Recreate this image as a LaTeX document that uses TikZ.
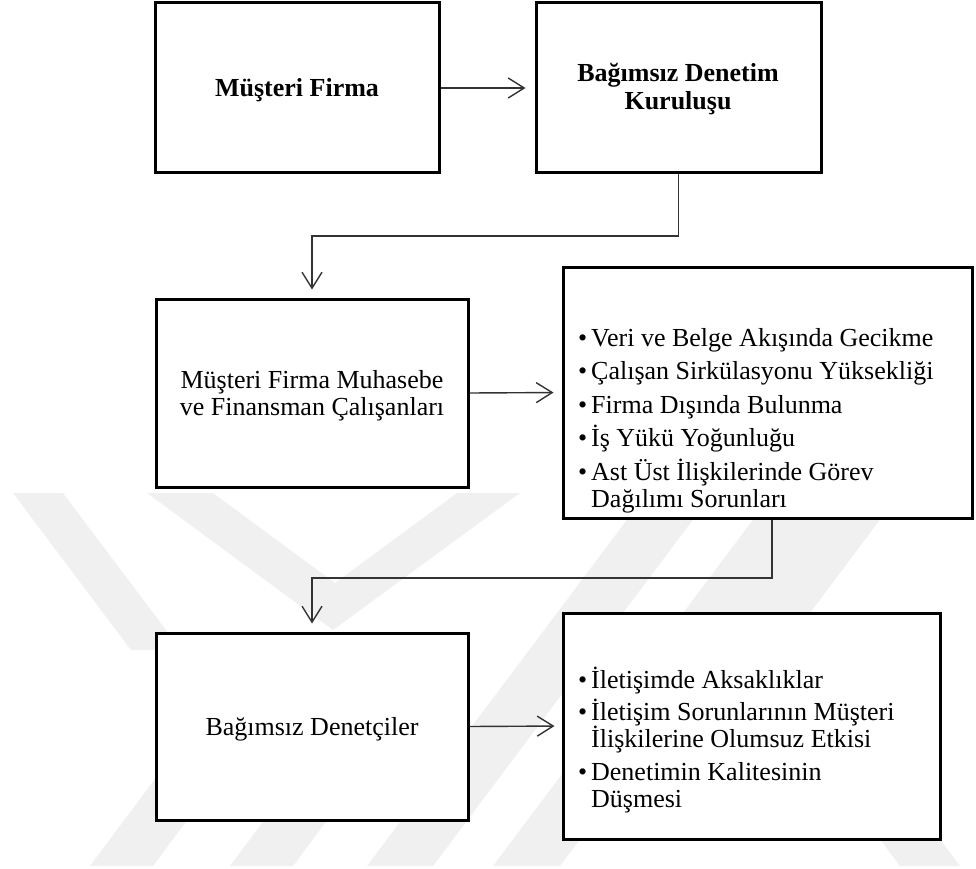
\documentclass[tikz,border=0pt]{standalone}
\usepackage{fontspec}
\setmainfont{Liberation Serif}
\usetikzlibrary{arrows.meta}
\newcommand\myblt{\makebox[13pt][l]{\textbullet}}
\newcommand\myind{\hspace*{13pt}}
\begin{document}
\begin{tikzpicture}[x=1pt,y=-1pt,
  box/.style={draw=black, line width=3pt, fill=white, inner sep=0pt, rectangle},
  conn/.style={draw=black!80, line width=1.4pt, -{Straight Barb[length=16pt,width=20pt]}},
  txt/.style={inner sep=0pt, font=\fontsize{26}{28}\selectfont},
  wm/.style={fill=black!6, draw=none}]
\useasboundingbox (0,0) rectangle (976,869);
% watermark
\begin{scope}
\clip (0,493) rectangle (976,869);
\fill[wm] (13,493) -- (63,493) -- (181,650) -- (131,650) -- cycle;
\fill[wm] (147,493) -- (213,493) -- (335,583) -- (457,493) -- (520,493) -- (333,630) -- cycle;
\fill[wm] (90,866) -- (153,866) -- (235,756) -- (172,756) -- cycle;
\fill[wm] (230,866) -- (293,866) -- (375,756) -- (312,756) -- cycle;
\fill[wm] (367,866) -- (433,866) -- (713,493) -- (647,493) -- cycle;
\fill[wm] (493,866) -- (560,866) -- (840,493) -- (773,493) -- cycle;
\fill[wm] (833,493) -- (900,493) -- (810,613) -- (743,613) -- cycle;
\fill[wm] (900,866) -- (960,866) -- (835,700) -- (775,700) -- cycle;
\end{scope}
% boxes
\node[box, minimum width=284pt, minimum height=170pt] (b1) at (297.5,88) {};
\node[box, minimum width=285pt, minimum height=170pt] (b2) at (678.5,88) {};
\node[box, minimum width=312pt, minimum height=188pt] (b3) at (312,393) {};
\node[box, minimum width=409pt, minimum height=251pt] (b4) at (767.5,392.5) {};
\node[box, minimum width=312pt, minimum height=187pt] (b5) at (312,726.5) {};
\node[box, minimum width=377pt, minimum height=226pt] (b6) at (751.5,726) {};
% texts
\node[txt, anchor=base] (t1) at (297,97) {\bfseries Müşteri Firma};
\node[txt, anchor=base] (t2a) at (678,82) {\bfseries Bağımsız Denetim};
\node[txt, anchor=base] (t2b) at (678,110) {\bfseries Kuruluşu};
\node[txt, anchor=base] (t3a) at (312,388) {Müşteri Firma Muhasebe};
\node[txt, anchor=base] (t3b) at (312,415) {ve Finansman Çalışanları};
\node[txt, anchor=base] (t5) at (312,735) {Bağımsız Denetçiler};
\node[txt, anchor=base west] (l41) at (578,346) {\myblt Veri ve Belge Akışında Gecikme};
\node[txt, anchor=base west] (l42) at (578,379.5) {\myblt Çalışan Sirkülasyonu Yüksekliği};
\node[txt, anchor=base west] (l43) at (578,413) {\myblt Firma Dışında Bulunma};
\node[txt, anchor=base west] (l44) at (578,446.5) {\myblt İş Yükü Yoğunluğu};
\node[txt, anchor=base west] (l45) at (578,480) {\myblt Ast Üst İlişkilerinde Görev};
\node[txt, anchor=base west] (l46) at (578,507) {\myind Dağılımı Sorunları};
\node[txt, anchor=base west] (l61) at (578,688) {\myblt İletişimde Aksaklıklar};
\node[txt, anchor=base west] (l62) at (578,720) {\myblt İletişim Sorunlarının Müşteri};
\node[txt, anchor=base west] (l63) at (578,747) {\myind İlişkilerine Olumsuz Etkisi};
\node[txt, anchor=base west] (l64) at (578,780) {\myblt Denetimin Kalitesinin};
\node[txt, anchor=base west] (l65) at (578,807) {\myind Düşmesi};
% connectors
\coordinate (k2) at (312,236);
\coordinate (k3) at (772,578);
\coordinate (k4) at (312,578);
\draw[conn, shorten >=9pt] (b1.east) -- (b2.west);
\draw[conn, shorten >=8pt] (b2.south) |- (k2) -- (b3.north);
\draw[conn, shorten >=8pt] (b3.east) -- (b4.west);
\draw[conn, shorten >=8pt] (b4.south -| k3) -- (k3) -- (k4) -- (b5.north);
\draw[conn, shorten >=7pt] (b5.east) -- (b6.west);
\end{tikzpicture}
\end{document}
